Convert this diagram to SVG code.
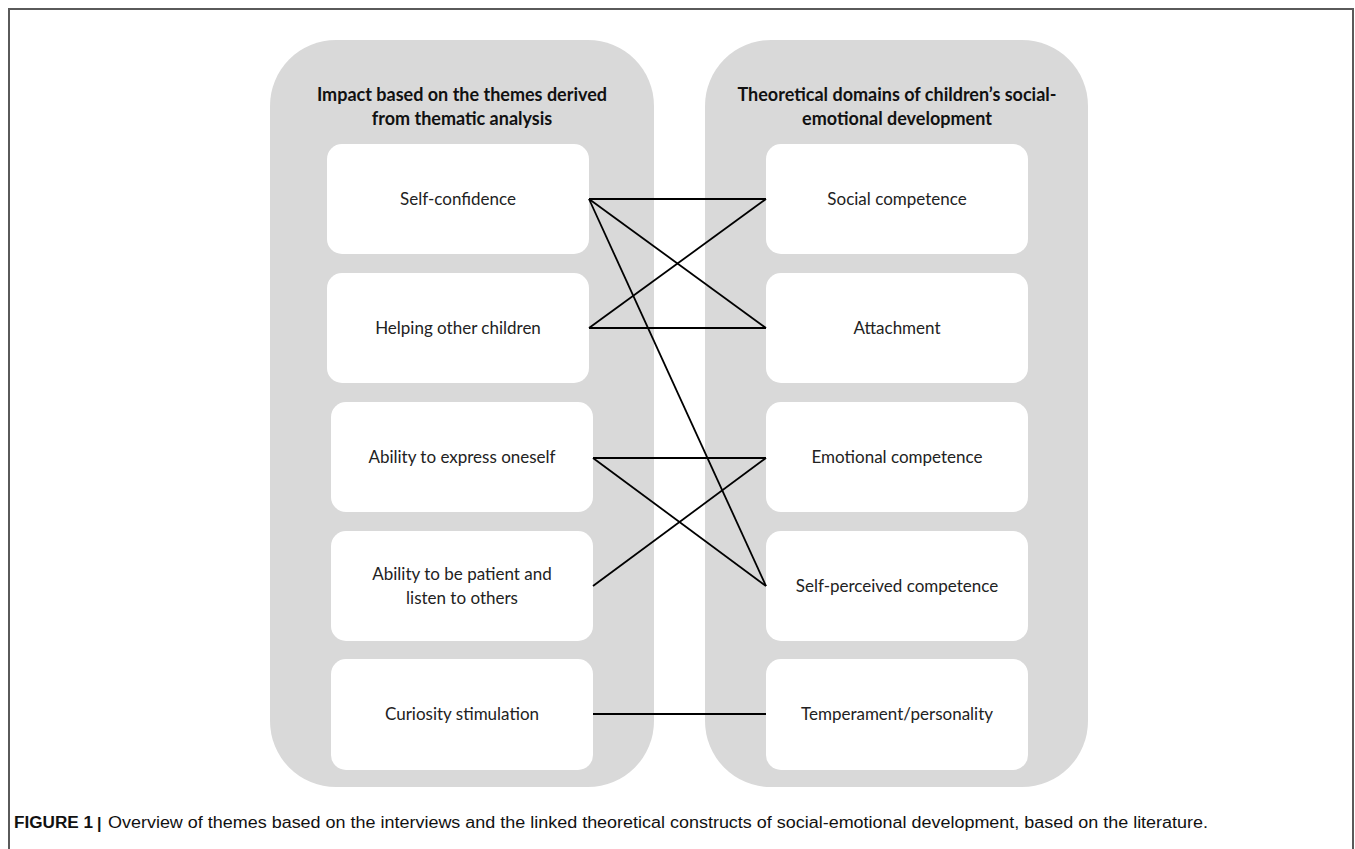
<svg xmlns="http://www.w3.org/2000/svg" width="1355" height="849" viewBox="0 0 1355 849">
<style>
.col{fill:#d9d9d9}
.node{fill:#ffffff}
.hdr{font-family:Lato,"Liberation Sans",sans-serif;font-weight:bold;font-size:18px;fill:#111;text-anchor:middle}
.lbl{font-family:Lato,"Liberation Sans",sans-serif;font-size:17px;fill:#222;text-anchor:middle}
.cap{font-family:"Liberation Sans",Arial,sans-serif;font-size:16px;fill:#111}
.conn line{stroke:#000;stroke-width:1.8}
.frame{stroke:#5a5a5a;stroke-width:2;fill:none}
</style>
<rect width="1355" height="849" fill="#ffffff"/>
<path class="frame" d="M9,849 V9 H1353 V849"/>
<g id="col-left">
<rect class="col" x="270" y="40" width="384" height="747" rx="66" ry="66"/>
<text class="hdr" x="462" y="101">Impact based on the themes derived</text>
<text class="hdr" x="462" y="125">from thematic analysis</text>
</g>
<g id="col-right">
<rect class="col" x="705" y="40" width="383" height="747" rx="66" ry="66"/>
<text class="hdr" x="897" y="101">Theoretical domains of children’s social-</text>
<text class="hdr" x="897" y="125">emotional development</text>
</g>
<g id="n-selfconf"><rect class="node" x="327" y="144" width="262" height="110" rx="15"/><text class="lbl" x="458" y="205">Self-confidence</text></g>
<g id="n-helping"><rect class="node" x="327" y="273" width="262" height="110" rx="15"/><text class="lbl" x="458" y="334">Helping other children</text></g>
<g id="n-express"><rect class="node" x="331" y="402" width="262" height="110" rx="15"/><text class="lbl" x="462" y="463">Ability to express oneself</text></g>
<g id="n-patient"><rect class="node" x="331" y="531" width="262" height="110" rx="15"/><text class="lbl" x="462" y="580">Ability to be patient and</text><text class="lbl" x="462" y="604">listen to others</text></g>
<g id="n-curiosity"><rect class="node" x="331" y="659" width="262" height="111" rx="15"/><text class="lbl" x="462" y="720">Curiosity stimulation</text></g>
<g id="n-social"><rect class="node" x="766" y="144" width="262" height="110" rx="15"/><text class="lbl" x="897" y="205">Social competence</text></g>
<g id="n-attach"><rect class="node" x="766" y="273" width="262" height="110" rx="15"/><text class="lbl" x="897" y="334">Attachment</text></g>
<g id="n-emotional"><rect class="node" x="766" y="402" width="262" height="110" rx="15"/><text class="lbl" x="897" y="463">Emotional competence</text></g>
<g id="n-selfperc"><rect class="node" x="766" y="531" width="262" height="110" rx="15"/><text class="lbl" x="897" y="592">Self-perceived competence</text></g>
<g id="n-temper"><rect class="node" x="766" y="659" width="262" height="111" rx="15"/><text class="lbl" x="897" y="720">Temperament/personality</text></g>
<g id="connectors" class="conn">
<line x1="589" y1="199" x2="766" y2="199"/>
<line x1="589" y1="199" x2="766" y2="328"/>
<line x1="589" y1="199" x2="766" y2="586"/>
<line x1="589" y1="328" x2="766" y2="199"/>
<line x1="589" y1="328" x2="766" y2="328"/>
<line x1="593" y1="458" x2="766" y2="458"/>
<line x1="593" y1="458" x2="766" y2="586"/>
<line x1="593" y1="586" x2="766" y2="458"/>
<line x1="593" y1="714" x2="766" y2="714"/>
</g>
<g id="caption">
<text class="cap" x="14" y="828" font-weight="bold" font-size="17" textLength="79" lengthAdjust="spacingAndGlyphs">FIGURE 1</text>
<text class="cap" x="97" y="829" font-weight="bold" font-size="20">|</text>
<text class="cap" x="108" y="828" textLength="1100" lengthAdjust="spacingAndGlyphs">Overview of themes based on the interviews and the linked theoretical constructs of social-emotional development, based on the literature.</text>
</g>
</svg>
